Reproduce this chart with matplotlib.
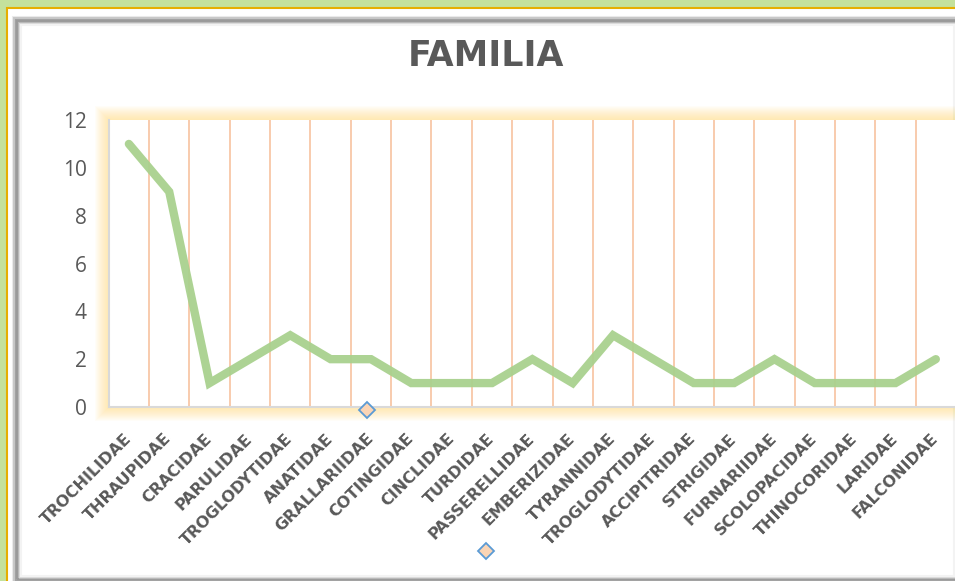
import matplotlib
matplotlib.use("Agg")
import matplotlib.pyplot as plt
from matplotlib.patches import Rectangle
import numpy as np

# ---- data ----
familias = ["TROCHILIDAE", "THRAUPIDAE", "CRACIDAE", "PARULIDAE", "TROGLODYTIDAE",
            "ANATIDAE", "GRALLARIIDAE", "COTINGIDAE", "CINCLIDAE", "TURDIDAE",
            "PASSERELLIDAE", "EMBERIZIDAE", "TYRANNIDAE", "TROGLODYTIDAE",
            "ACCIPITRIDAE", "STRIGIDAE", "FURNARIIDAE", "SCOLOPACIDAE",
            "THINOCORIDAE", "LARIDAE", "FALCONIDAE"]
conteo = [11, 9, 1, 2, 3, 2, 2, 1, 1, 1, 2, 1, 3, 2, 1, 1, 2, 1, 1, 1, 2]
y_ticks = [0, 2, 4, 6, 8, 10, 12]

W, H = 955, 581
GRAY_TXT = "#595959"
plt.rcParams["font.family"] = ["Open Sans", "DejaVu Sans"]

fig = plt.figure(figsize=(W / 100, H / 100), dpi=100)
fig.patch.set_facecolor("#c4e19c")


def frame_rect(x, y, w, h, **kw):
    # pixel box with top-left origin -> figure fraction
    fig.add_artist(Rectangle((x / W, 1 - (y + h) / H), w / W, h / H,
                             transform=fig.transFigure, **kw))


# ---- outer frame: green backdrop, gold line, bevelled gray border ----
frame_rect(7, 8, W + 20, H + 20, facecolor="white", edgecolor="#e6ae00",
           linewidth=1.5, zorder=-10)
bevel = ["#ececec", "#c8c8c8", "#a3a3a3", "#9a9a9a", "#b8b8b8", "#dadada", "#f3f3f3"]
for i, col in enumerate(bevel):
    x0, y0 = 13 + 1.4 * i, 17 + 1.4 * i
    x1, y1 = 962 - 1.3 * i, 583 - 1.2 * i
    frame_rect(x0, y0, x1 - x0, y1 - y0, facecolor="none", edgecolor=col,
               linewidth=1.5, zorder=-9)
frame_rect(23, 27, 929, 546, facecolor="white", edgecolor="none", zorder=-8)

# ---- soft yellow glow behind the plot area ----
ax_left, ax_bottom, ax_right, ax_top = 108.7, 407, 956, 120
for i in range(14):
    g = 14 - i
    frame_rect(ax_left - g, ax_top - g, ax_right - ax_left + 2 * g,
               ax_bottom - ax_top + 2 * g,
               facecolor="#ffd966", edgecolor="none", alpha=0.045, zorder=-7)

ax = fig.add_axes([ax_left / W, 1 - ax_bottom / H, (ax_right - ax_left) / W,
                   (ax_bottom - ax_top) / H])
ax.set_facecolor("white")

x = np.arange(len(familias))
for b in x[:-1] + 0.5:
    ax.axvline(b, color="#f8cbad", lw=1.4, zorder=1)
ax.plot(x, conteo, color="#a9d18e", lw=6, solid_capstyle="round",
        solid_joinstyle="miter", alpha=0.95, zorder=3)

ax.set_xlim(-0.5, len(familias) - 0.5)
ax.set_ylim(0, 12)
ax.set_yticks(y_ticks)
ax.set_yticklabels([str(v) for v in y_ticks], fontsize=15, color=GRAY_TXT)
ax.set_xticks(x)
ax.set_xticklabels(familias, rotation=45, ha="right", va="center",
                   rotation_mode="anchor", fontsize=11.5, fontweight="bold",
                   family="DejaVu Sans", color=GRAY_TXT)
ax.tick_params(axis="y", length=0, pad=16)
ax.tick_params(axis="x", length=0, pad=21)
for s in ["top", "right"]:
    ax.spines[s].set_visible(False)
for s in ["left", "bottom"]:
    ax.spines[s].set_color("#d9d9d9")
    ax.spines[s].set_linewidth(1.5)

fig.text(486 / W, 1 - 56 / H, "FAMILIA", ha="center", va="center",
         fontsize=25, fontweight="bold", family="DejaVu Sans", color=GRAY_TXT)

# selection handles left over in the screenshot
for hx, hy in [(367, 410), (486, 551)]:
    fig.add_artist(plt.Line2D([hx / W], [1 - hy / H], transform=fig.transFigure,
                              marker="D", markersize=8, markerfacecolor="#fbd5b5",
                              markeredgecolor="#5b9bd5", markeredgewidth=1.3,
                              linestyle="none", zorder=10))

fig.savefig("out.png", dpi=100)
